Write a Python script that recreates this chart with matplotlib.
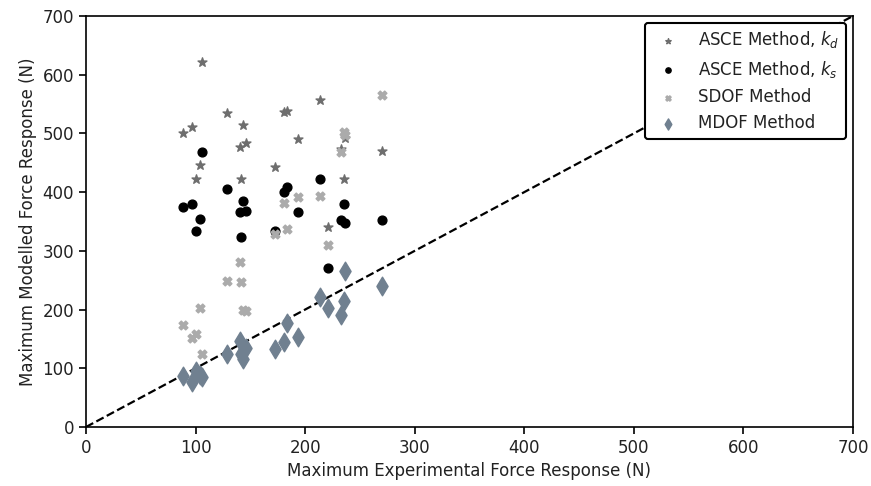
import numpy as np
import matplotlib.pyplot as plt

# experimental peak force (N), one per test
exp_force = [88.8, 96.4, 100.4, 104, 106.2, 128.4, 140.5, 141.2, 143.6, 145.7,
             172.5, 181, 183.2, 193.8, 213.6, 220.6, 232.7, 235.8, 236.4, 270.4]

asce_kd = [501, 511, 423, 446, 621, 534, 477, 422, 514, 483,
           442, 537, 539, 491, 557, 341, 474, 423, 492, 470]
asce_ks = [375, 379, 333, 355, 468, 406, 367, 323, 385, 368,
           334, 401, 409, 366, 423, 271, 352, 379, 347, 352]
sdof = [173, 151, 158, 203, 124, 248, 281, 247, 200, 197,
        328, 382, 338, 391, 393, 310, 469, 503, 497, 566]
mdof = [87, 77, 95, 89, 86, 124, 147, 125, 115, 135,
        133, 144, 177, 153, 221, 203, 191, 215, 266, 240]

ticks = [0, 100, 200, 300, 400, 500, 600, 700]

plt.rcParams['font.family'] = 'DejaVu Sans'
plt.rcParams['font.size'] = 12
plt.rcParams['text.color'] = '#222222'
plt.rcParams['axes.labelcolor'] = '#222222'
plt.rcParams['xtick.labelcolor'] = '#222222'
plt.rcParams['ytick.labelcolor'] = '#222222'

fig = plt.figure(figsize=(8.71, 4.86), dpi=100)
ax = fig.add_axes([0.0987, 0.1214, 0.8806, 0.8457])

ax.plot([0, 700], [0, 700], '--', color='black', lw=1.6, zorder=1)
ax.scatter(exp_force, asce_kd, marker='*', s=45, color='#6e6e6e', label='ASCE Method, $k_d$', zorder=2)
ax.scatter(exp_force, asce_ks, marker='o', s=40, color='black', label='ASCE Method, $k_s$', zorder=2)
ax.scatter(exp_force, sdof, marker='X', s=40, color='#ababab', label='SDOF Method', zorder=2)
ax.scatter(exp_force, mdof, marker='d', s=90, color='#708090', label='MDOF Method', zorder=3)

ax.set_xlim(0, 700)
ax.set_ylim(0, 700)
ax.set_xticks(ticks)
ax.set_yticks(ticks)
ax.tick_params(length=5, width=1.2)
for sp in ax.spines.values():
    sp.set_linewidth(1.2)
ax.set_xlabel('Maximum Experimental Force Response (N)')
ax.set_ylabel('Maximum Modelled Force Response (N)')

leg = ax.legend(loc='upper right', markerscale=0.6, framealpha=1, fancybox=True,
                edgecolor='black', fontsize=12, borderaxespad=0.4)
leg.get_frame().set_linewidth(1.5)

fig.savefig('out.png', dpi=100)
